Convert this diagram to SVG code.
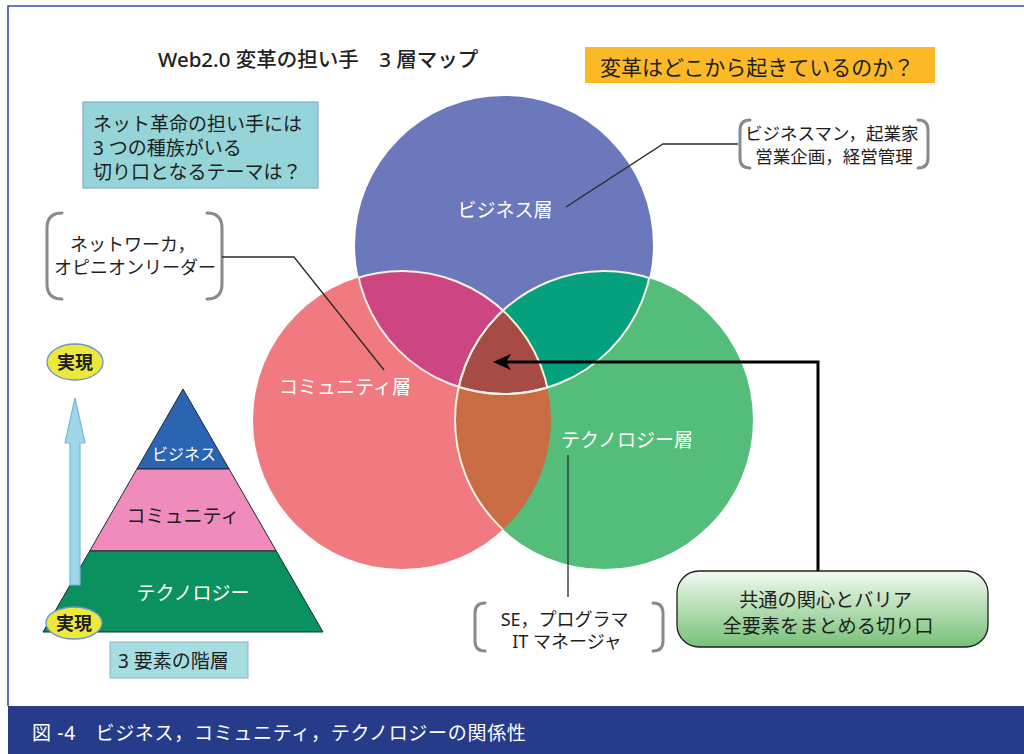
<svg xmlns="http://www.w3.org/2000/svg" width="1024" height="754" viewBox="0 0 1024 754">
<style>
  text { font-family: "Noto Sans", "Noto Sans CJK JP", sans-serif; }
  .dk { fill: #1e1e1e; }
  .wt { fill: #ffffff; }
  .brk { fill: none; stroke: #8a8a8a; stroke-width: 3; stroke-linecap: round; }
  .lead { fill: none; stroke: #2a2a2a; stroke-width: 1.3; }
  .seam { fill: none; stroke: #f6f1e2; stroke-width: 2; }
  .tri { stroke: #1c2a38; stroke-width: 1; }
</style>
<defs>
  <clipPath id="cB"><circle cx="504" cy="245" r="149"/></clipPath>
  <clipPath id="cC"><circle cx="402" cy="420" r="149"/></clipPath>
  <clipPath id="cT"><circle cx="604" cy="420" r="149"/></clipPath>
  <linearGradient id="gGreen" x1="0" y1="0" x2="0" y2="1">
    <stop offset="0" stop-color="#f2f9f0"/>
    <stop offset="1" stop-color="#76c177"/>
  </linearGradient>
  <marker id="ah" markerUnits="userSpaceOnUse" markerWidth="18" markerHeight="16" viewBox="0 0 18 16" refX="14" refY="8" orient="auto">
    <path d="M0,0 L18,8 L0,16 L5,8 Z" fill="#000"/>
  </marker>
</defs>

<rect x="0" y="0" width="1024" height="754" fill="#ffffff"/>

<!-- frame -->
<g id="frame">
  <path d="M8,706 L8,6 L1024,6" fill="none" stroke="#3a4fa8" stroke-width="1.6"/>
  <rect x="8" y="706" width="1016" height="48" fill="#263c8b"/>
  <text x="32" y="740" font-size="19" class="wt" letter-spacing="0.7">図 -4　ビジネス，コミュニティ，テクノロジーの関係性</text>
</g>

<!-- title -->
<g id="title">
  <text x="158" y="67" font-size="20.5" font-weight="500" fill="#222222">Web2.0 変革の担い手　3 層マップ</text>
</g>

<!-- question box -->
<g id="question">
  <rect x="585" y="47" width="350" height="36" fill="#fbb928"/>
  <text x="600" y="75" font-size="21" class="dk">変革はどこから起きているのか？</text>
</g>

<!-- cyan box -->
<g id="theme">
  <rect x="83" y="102" width="235" height="86" fill="#95d4d8" stroke="#86a8d6" stroke-width="1.2"/>
  <text font-size="19" class="dk">
    <tspan x="93" y="131">ネット革命の担い手には</tspan>
    <tspan x="93" y="155">3 つの種族がいる</tspan>
    <tspan x="93" y="179">切り口となるテーマは？</tspan>
  </text>
</g>

<!-- venn -->
<g id="venn">
  <circle cx="504" cy="245" r="149" fill="#6c78bc"/>
  <circle cx="402" cy="420" r="149" fill="#f07a7f"/>
  <circle cx="604" cy="420" r="149" fill="#55bd7a"/>
  <circle cx="402" cy="420" r="149" fill="#cd4581" clip-path="url(#cB)"/>
  <circle cx="604" cy="420" r="149" fill="#05a07e" clip-path="url(#cB)"/>
  <circle cx="604" cy="420" r="149" fill="#c96c43" clip-path="url(#cC)"/>
  <g clip-path="url(#cB)">
    <circle cx="604" cy="420" r="149" fill="#a74b47" clip-path="url(#cC)"/>
  </g>
  <g clip-path="url(#cB)">
    <circle cx="402" cy="420" r="149" class="seam"/>
    <circle cx="604" cy="420" r="149" class="seam"/>
  </g>
  <g clip-path="url(#cC)">
    <circle cx="504" cy="245" r="149" class="seam"/>
    <circle cx="604" cy="420" r="149" class="seam"/>
  </g>
  <circle cx="504" cy="245" r="149" class="seam" clip-path="url(#cT)"/>
</g>

<g id="layer-business">
  <text x="505" y="217" font-size="19" class="wt" text-anchor="middle">ビジネス層</text>
</g>
<g id="layer-community">
  <text x="345" y="394" font-size="19" class="wt" text-anchor="middle">コミュニティ層</text>
</g>
<g id="layer-technology">
  <text x="627" y="447" font-size="19" class="wt" text-anchor="middle">テクノロジー層</text>
</g>

<!-- bracket notes -->
<g id="note-business">
  <path class="brk" d="M750,120 Q740,120 740,130 L740,158 Q740,168 750,168"/>
  <path class="brk" d="M918,120 Q928,120 928,130 L928,158 Q928,168 918,168"/>
  <text font-size="17.5" class="dk" text-anchor="middle">
    <tspan x="834" y="140">ビジネスマン，起業家</tspan>
    <tspan x="834" y="163">営業企画，経営管理</tspan>
  </text>
</g>
<g id="note-community">
  <path class="brk" d="M62,213 Q47,213 47,228 L47,284 Q47,299 62,299"/>
  <path class="brk" d="M207,213 Q222,213 222,228 L222,284 Q222,299 207,299"/>
  <text font-size="18" class="dk" text-anchor="middle">
    <tspan x="135" y="251">ネットワーカ，</tspan>
    <tspan x="135" y="274">オピニオンリーダー</tspan>
  </text>
</g>
<g id="note-technology">
  <path class="brk" d="M485,603 Q475,603 475,613 L475,641 Q475,651 485,651"/>
  <path class="brk" d="M653,603 Q663,603 663,613 L663,641 Q663,651 653,651"/>
  <text font-size="18" class="dk" text-anchor="middle">
    <tspan x="567" y="626">SE，プログラマ</tspan>
    <tspan x="567" y="648">IT マネージャ</tspan>
  </text>
</g>

<!-- common box -->
<g id="common">
  <rect x="677" y="571" width="311" height="76" rx="22" ry="22" fill="url(#gGreen)" stroke="#1f1f1f" stroke-width="1.3"/>
  <text font-size="19.2" class="dk" text-anchor="middle">
    <tspan x="828" y="607">共通の関心とバリア</tspan>
    <tspan x="828" y="633">全要素をまとめる切り口</tspan>
  </text>
</g>

<!-- pyramid -->
<g id="pyramid">
  <polygon class="tri" points="183,389 229.1,469 136.9,469" fill="#2b64b0"/>
  <polygon class="tri" points="136.9,469 229.1,469 276.3,551 89.7,551" fill="#ef8cbb"/>
  <polygon class="tri" points="89.7,551 276.3,551 323,632 43,632" fill="#0b9060"/>
  <text x="184" y="460" font-size="16" class="wt" text-anchor="middle">ビジネス</text>
  <text x="183" y="523" font-size="19" class="dk" text-anchor="middle">コミュニティ</text>
  <text x="193" y="600" font-size="19" class="wt" text-anchor="middle">テクノロジー</text>
</g>

<g id="rise-arrow">
  <polygon points="75,398 85,443 80,443 80,585 70,585 70,443 65,443" fill="#9fd7ea" stroke="#78b6dc" stroke-width="1.2"/>
</g>

<g id="real-top">
  <ellipse cx="75" cy="362" rx="28" ry="18" fill="#ece83e" stroke="#6a93cf" stroke-width="1.3"/>
  <text x="75" y="369" font-size="18" font-weight="bold" class="dk" text-anchor="middle">実現</text>
</g>
<g id="real-bottom">
  <ellipse cx="74" cy="623" rx="28" ry="16" fill="#ece83e" stroke="#6a93cf" stroke-width="1.3"/>
  <text x="74" y="630" font-size="18" font-weight="bold" class="dk" text-anchor="middle">実現</text>
</g>

<g id="levels">
  <rect x="110" y="642" width="138" height="36" fill="#a6dde0" stroke="#8fb0d0" stroke-width="1"/>
  <text x="118" y="668" font-size="19" class="dk">3 要素の階層</text>
</g>

<!-- connectors -->
<g id="connectors">
  <path class="lead" d="M738,144 L663,144 L566,207"/>
  <path class="lead" d="M222,257 L294,257 L384,370"/>
  <path class="lead" d="M568,455 L568,597"/>
  <path d="M818,571 L818,362 L497,362" fill="none" stroke="#000" stroke-width="3" marker-end="url(#ah)"/>
</g>
</svg>
